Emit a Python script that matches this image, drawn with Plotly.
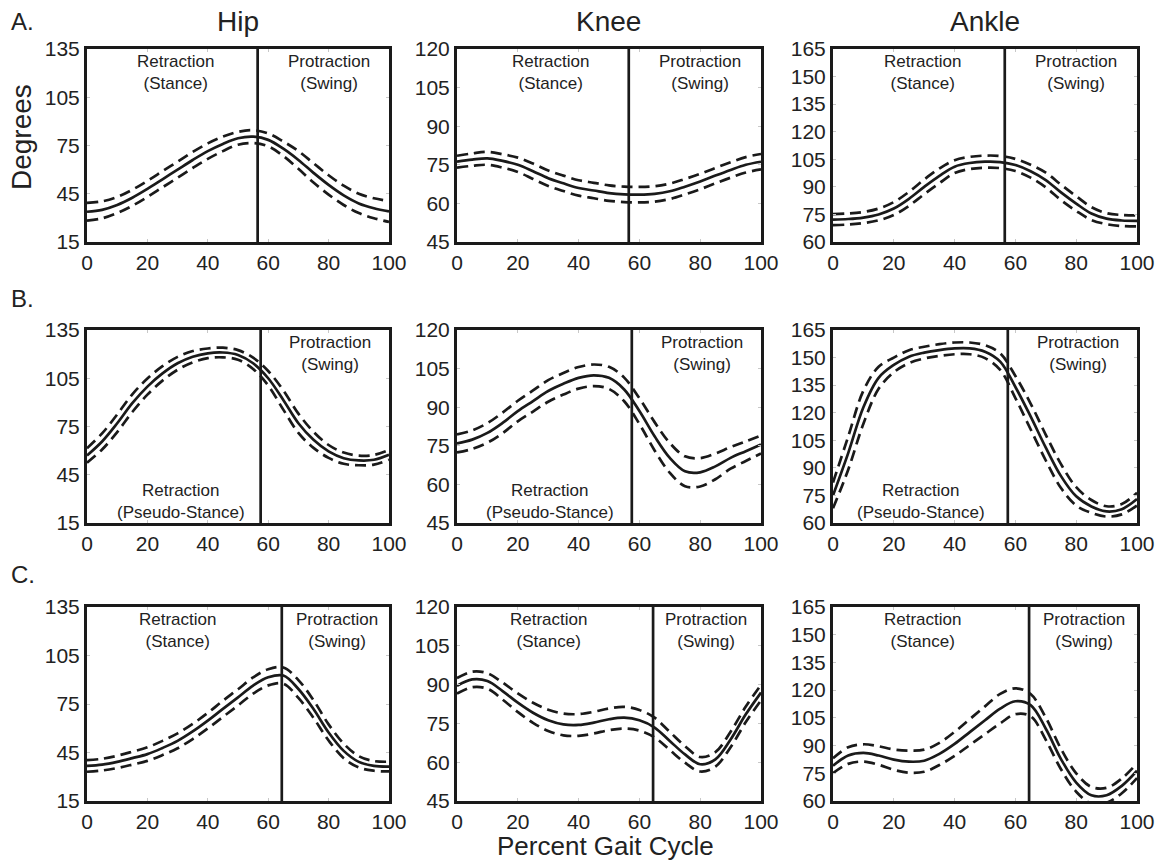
import plotly.graph_objects as go

# ---------------- data (percent gait cycle, every 5 %) ----------------
X = [0, 5, 10, 15, 20, 25, 30, 35, 40, 45, 50, 55, 60, 65, 70, 75, 80, 85, 90, 95, 100]

HIP_A_MEAN = [33.8, 35, 38, 42.5, 48, 54, 60, 66, 71.5, 76, 79.5, 80.5, 78.5, 73, 66, 58, 50.5, 44, 39, 36, 34]
HIP_A_SD = [5.5, 5.3, 5, 5, 5, 5, 5, 5, 4.8, 4.5, 4, 4, 4, 4.5, 5.5, 6, 6, 6, 6, 6.2, 6.5]
KNEE_A_MEAN = [76.2, 77, 77.5, 76.5, 75, 72.5, 69.8, 67.8, 66, 65, 64, 63.5, 63.4, 63.7, 64.7, 66.5, 68.5, 70.8, 73, 75, 76.2]
KNEE_A_SD = [2.3, 2.4, 2.5, 2.6, 2.8, 3, 3, 3, 3, 3, 3, 3, 3, 3, 3, 3, 3, 3, 3, 3, 3]
ANKLE_A_MEAN = [72.2, 72.5, 73.3, 75, 78.2, 83.5, 90, 96, 101, 103, 103.7, 103.5, 101.9, 98.5, 93.7, 87, 80.9, 75.5, 72.7, 71.7, 71.5]
ANKLE_A_SD = [3, 3, 3, 3.2, 3.5, 3.8, 4, 4, 3.5, 3.3, 3.3, 3.3, 3.3, 3.5, 4, 4.2, 4, 3.5, 3, 3, 3]

HIP_B_MEAN = [57, 65.7, 77, 89.5, 99.8, 108, 114.3, 118.4, 120.5, 121, 119.5, 114.3, 105, 91.5, 77, 66.7, 59.5, 55.3, 53.9, 54.3, 57.4]
HIP_B_SD = [4.5, 5, 5.5, 5.5, 5, 4.5, 4, 3.5, 3, 3, 3, 3.5, 4.5, 6, 6, 5, 4, 3.5, 3, 3, 3]
KNEE_B_MEAN = [75.9, 77.4, 80, 83.9, 88.5, 92.4, 96.3, 99.1, 101.4, 102.4, 101.4, 96.9, 88.5, 78.7, 70.3, 65.1, 64.7, 67, 70.3, 72.9, 75.5]
KNEE_B_SD = [3.5, 3.6, 3.8, 4, 4, 4.1, 4.2, 4.2, 4.2, 4.2, 4.3, 4.6, 5, 5.5, 5.8, 5.8, 5.5, 5, 4.2, 3.8, 3.5]
ANKLE_B_MEAN = [75, 98, 123, 139, 146, 150.5, 152.7, 154.1, 155, 155, 153.2, 147.8, 134, 118, 101, 85.5, 74.5, 69, 66.3, 67.5, 73]
ANKLE_B_SD = [7, 9, 9, 6, 4, 3.5, 3.2, 3.2, 3.2, 3.2, 3.5, 4.5, 6, 7, 7, 6.5, 5, 3.5, 2.8, 2.8, 3.5]

HIP_C_MEAN = [36.7, 37.5, 39.2, 41.5, 44, 47.8, 52.2, 58, 64.7, 72, 79.1, 86.4, 91.5, 92.6, 84.3, 71.9, 57.4, 46, 39.2, 36.7, 36.3]
HIP_C_SD = [3.6, 3.6, 3.8, 4, 4.2, 4.4, 4.6, 4.7, 4.8, 5, 5, 5, 5, 5, 5.5, 5.5, 5, 4.5, 3.5, 3, 3]
KNEE_C_MEAN = [89.5, 92, 91.4, 87.5, 83, 79.1, 76.2, 74.6, 74.4, 75.3, 76.6, 77.2, 76.2, 73.4, 68.2, 63, 59.2, 61.1, 68.8, 78.5, 86.9]
KNEE_C_SD = [3, 3, 3, 3.3, 3.6, 3.9, 4.1, 4.2, 4.2, 4.2, 4.2, 4.2, 4, 3.8, 3.5, 3.2, 2.8, 2.8, 3, 3, 3]
ANKLE_C_MEAN = [79.1, 84.6, 86, 84.6, 82.4, 81.3, 81.8, 85.5, 90.9, 97.3, 103.7, 110, 114, 111.9, 99.1, 82.7, 70, 63.1, 63.1, 68.2, 76.4]
ANKLE_C_SD = [4, 4.5, 4.7, 5, 5.5, 6, 6, 6, 6.5, 7, 7.5, 8, 7, 6, 6, 5.5, 5, 4.5, 4, 4, 4]

# stance/swing transition (percent of gait cycle) per row
SPLIT = {"A": 56.5, "B": 57.5, "C": 64.5}

JOINTS = ["Hip", "Knee", "Ankle"]
ROW_LABELS = ["A.", "B.", "C."]
Y_RANGES = {"Hip": (15, 135, 30), "Knee": (45, 120, 15), "Ankle": (60, 165, 15)}
X_TICKS = [0, 20, 40, 60, 80, 100]

DATA = {
    ("A", "Hip"): (HIP_A_MEAN, HIP_A_SD), ("A", "Knee"): (KNEE_A_MEAN, KNEE_A_SD), ("A", "Ankle"): (ANKLE_A_MEAN, ANKLE_A_SD),
    ("B", "Hip"): (HIP_B_MEAN, HIP_B_SD), ("B", "Knee"): (KNEE_B_MEAN, KNEE_B_SD), ("B", "Ankle"): (ANKLE_B_MEAN, ANKLE_B_SD),
    ("C", "Hip"): (HIP_C_MEAN, HIP_C_SD), ("C", "Knee"): (KNEE_C_MEAN, KNEE_C_SD), ("C", "Ankle"): (ANKLE_C_MEAN, ANKLE_C_SD),
}

# phase label x positions (data units) per row / column
RETR_X = {"A": [29.3, 30.6, 29.5], "B": [31, 30.6, 29], "C": [29.8, 30, 29.5]}
PROT_X = {"A": [80, 80, 80], "B": [80.5, 80.5, 80.5], "C": [82.7, 82, 82.5]}

# ---------------- layout geometry (pixels) ----------------
W, H = 1168, 862
COLS = [(87, 389), (457, 761), (833, 1137)]
ROWS = [(49, 242), (330, 523), (607, 801)]
FONT = "Liberation Sans, Arial, Helvetica, sans-serif"
INK = "#1a1a1a"
LAB = 17


def fx(p):
    return p / W


def fy(p):
    return 1 - p / H


fig = go.Figure()
annotations = []
shapes = []


def note(x, y, text, size, xref="paper", xanchor="center", yanchor="middle", angle=0):
    annotations.append(dict(x=x, y=y, xref=xref, yref="paper", text=text, showarrow=False,
                            xanchor=xanchor, yanchor=yanchor, textangle=angle, borderpad=0,
                            font=dict(family=FONT, size=size, color="#222")))


k = 0
for r, row in enumerate(["A", "B", "C"]):
    for c, joint in enumerate(JOINTS):
        k += 1
        xa = "x" if k == 1 else f"x{k}"
        ya = "y" if k == 1 else f"y{k}"
        mean, sd = DATA[(row, joint)]
        upper = [m + s for m, s in zip(mean, sd)]
        lower = [m - s for m, s in zip(mean, sd)]
        for ser, dash in ((upper, "11px,6px"), (lower, "11px,6px"), (mean, "solid")):
            fig.add_trace(go.Scatter(
                x=X, y=ser, mode="lines", xaxis=xa, yaxis=ya, showlegend=False,
                line=dict(color=INK, width=2.7, dash=dash, shape="spline", smoothing=1.0),
                hoverinfo="skip"))
        y0, y1, step = Y_RANGES[joint]
        common = dict(showgrid=False, zeroline=False, showline=True, linecolor=INK, linewidth=3,
                      mirror="ticks", ticks="inside", ticklen=3, tickcolor="#c8c8c8", tickwidth=1,
                      tickfont=dict(family=FONT, size=21, color="#222"))
        axx = dict(domain=[fx(COLS[c][0]), fx(COLS[c][1])], range=[0, 100], anchor=ya,
                   tickvals=X_TICKS, **common)
        axy = dict(domain=[fy(ROWS[r][1]), fy(ROWS[r][0])], range=[y0, y1], anchor=xa,
                   tickvals=list(range(y0, y1 + 1, step)), **common)
        fig.layout["xaxis" if k == 1 else f"xaxis{k}"] = axx
        fig.layout["yaxis" if k == 1 else f"yaxis{k}"] = axy

        split = SPLIT[row]
        shapes.append(dict(type="line", xref=xa, yref=f"{ya} domain", x0=split, x1=split,
                           y0=0, y1=1, line=dict(color=INK, width=2.7), layer="above"))

        top = ROWS[r][0]
        bot = ROWS[r][1]
        if row == "B":
            note(PROT_X[row][c], fy(top + 24), "Protraction<br>(Swing)", LAB, xref=xa)
            note(RETR_X[row][c], fy(bot - 21), "Retraction<br>(Pseudo-Stance)", LAB, xref=xa)
        else:
            note(RETR_X[row][c], fy(top + 23), "Retraction<br>(Stance)", LAB, xref=xa)
            note(PROT_X[row][c], fy(top + 23), "Protraction<br>(Swing)", LAB, xref=xa)

# column titles
for c, joint in enumerate(JOINTS):
    note(fx((COLS[c][0] + COLS[c][1]) / 2), fy(21), joint, 28)
# row letters
for lab, py in zip(ROW_LABELS, [22, 298, 574]):
    note(fx(10), fy(py), lab, 24, xanchor="left")
# axis titles
note(fx(21), fy(137), "Degrees", 28, angle=-90)
note(fx(605), 0.0, "Percent Gait Cycle", 26, yanchor="bottom")

fig.update_layout(width=W, height=H, margin=dict(l=0, r=0, t=0, b=0, autoexpand=False),
                  paper_bgcolor="white", plot_bgcolor="white",
                  annotations=annotations, shapes=shapes, showlegend=False)

fig.write_html("out.html")
